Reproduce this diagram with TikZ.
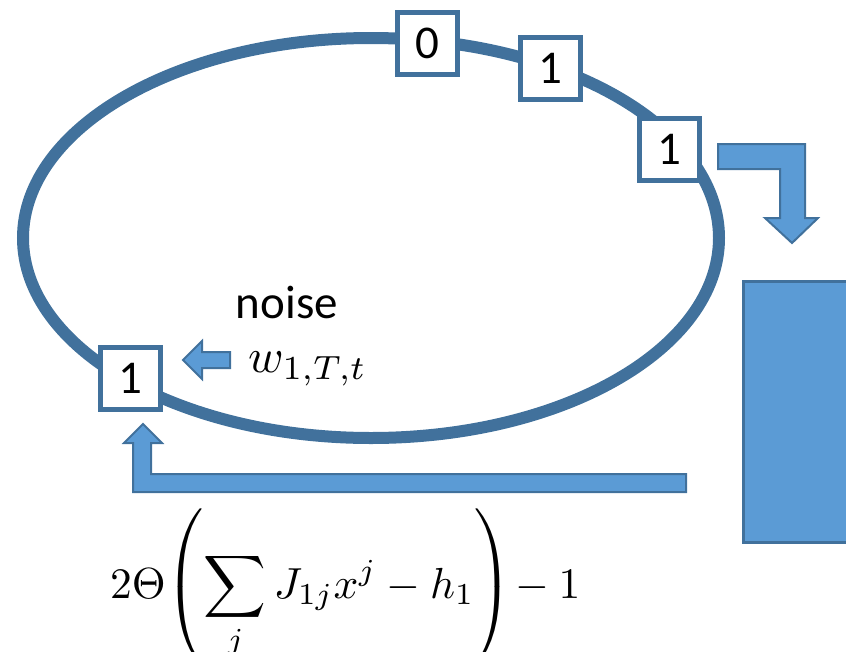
\documentclass[tikz,border=0pt]{standalone}
\usepackage{amsmath}
\usepackage{graphicx}
\usepackage{fontspec}
\setmainfont{Carlito}
\definecolor{edgeblue}{RGB}{65,113,156}
\definecolor{fillblue}{RGB}{91,155,213}
\tikzset{
  bitbox/.style={draw=edgeblue, line width=5pt, fill=white, minimum width=60pt, minimum height=62pt, inner sep=0pt, font=\fontsize{47}{56}\selectfont},
  blockarrow/.style={draw=edgeblue, line width=2pt, fill=fillblue, line join=miter},
  ring/.style={draw=edgeblue, line width=12pt},
  bigtxt/.style={font=\fontsize{47}{56}\selectfont, inner sep=0pt},
  mathtxt/.style={font=\normalsize, inner sep=0pt}
}
\begin{document}
\begin{tikzpicture}[x=1pt,y=-1pt]
\useasboundingbox (0,0) rectangle (846,651);
\clip (0,0) rectangle (846,651);
% ring
\draw[ring] (371,238) ellipse [x radius=348pt, y radius=200pt];
% bits
\node[bitbox] (b0) at (427,43.5) {0};
\node[bitbox] (b1) at (550,68) {1};
\node[bitbox] (b2) at (669,149.5) {1};
\node[bitbox] (b3) at (130.5,378.5) {1};
% system block
\node[draw=edgeblue, line width=2.5pt, fill=fillblue, minimum width=120pt, minimum height=261pt, inner sep=0pt, anchor=north west] (sys) at (742,280) {};
% top bent arrow
\path[blockarrow] (718,144) -- (805,144) -- (805,218) -- (818,218) -- (792,243) -- (765,218) -- (780,218) -- (780,169) -- (718,169) -- cycle;
% bottom bent arrow
\path[blockarrow] (686,474) -- (686,492) -- (133,492) -- (133,443) -- (124,443) -- (143,424) -- (162,443) -- (151,443) -- (151,474) -- cycle;
% noise arrow
\path[blockarrow] (230,352) -- (202,352) -- (202,341) -- (183,360) -- (202,379) -- (202,368) -- (230,368) -- cycle;
% labels
\node[bigtxt, anchor=base] (noise) at (287,318) {noise};
\node[mathtxt, anchor=base west] (w) at (248,372) {\scalebox{4.8}{$w_{1,T,t}$}};
\node[mathtxt, anchor=base west] (formula) at (110,598) {\scalebox{4.35}{$\displaystyle 2\Theta\!\left(\sum_j J_{1j}x^j-h_1\right)\!-1$}};
\end{tikzpicture}
\end{document}
